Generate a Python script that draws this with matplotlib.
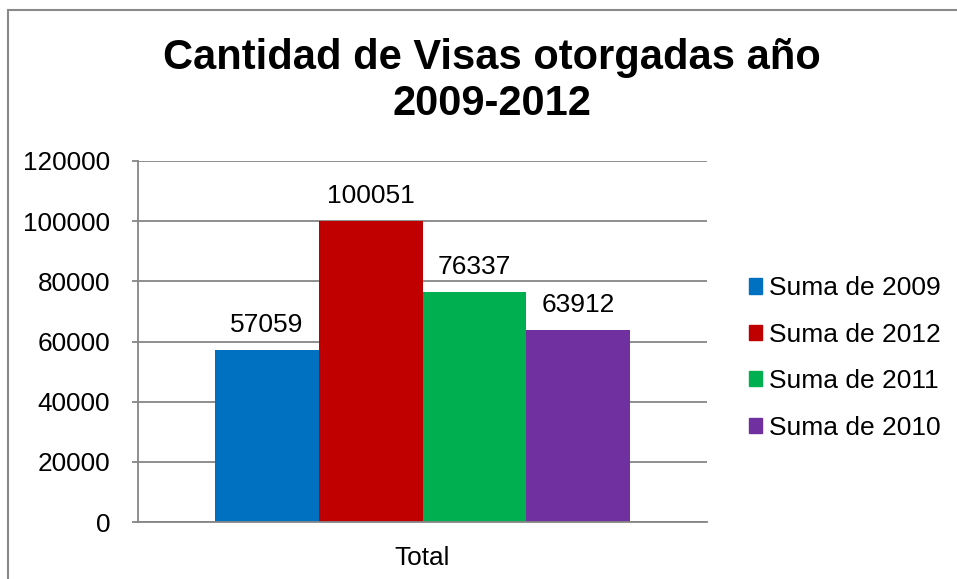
import matplotlib.pyplot as plt
from matplotlib.patches import Patch, Rectangle

plt.rcParams['font.family'] = ['Liberation Sans', 'DejaVu Sans']

series = ["Suma de 2009", "Suma de 2012", "Suma de 2011", "Suma de 2010"]
values = [57059, 100051, 76337, 63912]
colors = ["#0070C0", "#C00000", "#00B050", "#7030A0"]
category = "Total"
yticks = [0, 20000, 40000, 60000, 80000, 100000, 120000]

fig = plt.figure(figsize=(9.57, 5.79), dpi=100)
ax = fig.add_axes([138/957, 1 - 522/579, (707 - 138)/957, (522 - 161)/579])

positions = [i - (len(values) - 1) / 2 for i in range(len(values))]
bars = ax.bar(positions, values, width=1.0, color=colors, zorder=2)

for x, v in zip(positions, values):
    ax.annotate(str(v), (x, v), xytext=(0, 13), textcoords='offset points',
                ha='center', va='baseline', fontsize=19)

ax.set_xlim(-2.742, 2.742)
ax.set_ylim(0, 120000)
ax.set_yticks(yticks)
ax.set_yticklabels([str(t) for t in yticks])
ax.set_xticks([0])
ax.set_xticklabels([category])
ax.yaxis.grid(True, color='#868686', linewidth=1.3, zorder=0)
ax.tick_params(axis='y', labelsize=18.8, length=4, width=1.3, color='#868686', pad=16)
ax.tick_params(axis='x', labelsize=18.8, length=0, pad=17)
for side in ['top', 'right']:
    ax.spines[side].set_visible(False)
for side in ['left', 'bottom']:
    ax.spines[side].set_color('#868686')
    ax.spines[side].set_linewidth(1.3)

fig.text(492/957, 1 - 81/579, "Cantidad de Visas otorgadas año\n2009-2012",
         ha='center', va='center', fontsize=30, fontweight='bold', linespacing=1.17)

handles = [Patch(color=c, label=s) for c, s in zip(colors, series)]
fig.legend(handles=handles, loc='center left', bbox_to_anchor=(749/957, 1 - 358/579),
           frameon=False, fontsize=19, handlelength=0.5, handleheight=0.5,
           handletextpad=0.25, labelspacing=0.85, borderpad=0, borderaxespad=0)

fig.patches.append(Rectangle((8/957, -0.1), 1.2, 1 - 10/579 + 0.1, transform=fig.transFigure,
                             fill=False, edgecolor='#898989', linewidth=1.5))

fig.savefig("out.png", dpi=100)
